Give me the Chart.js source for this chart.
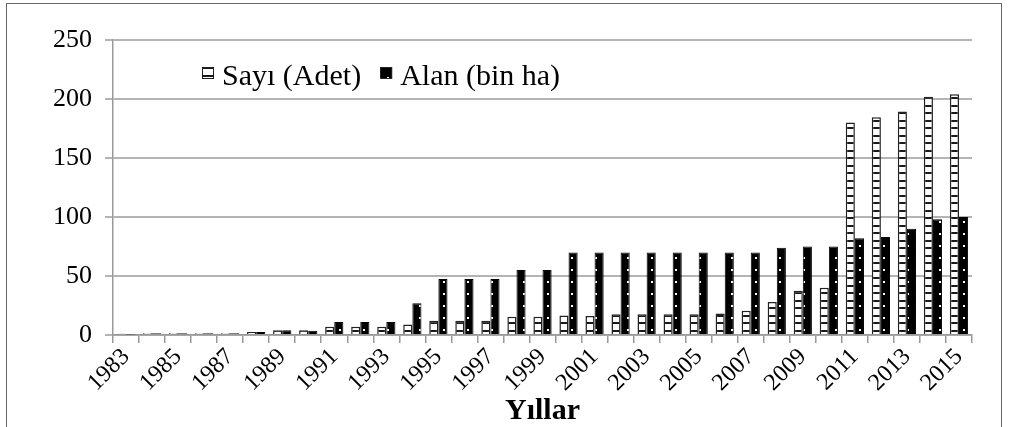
<!DOCTYPE html>
<html>
<head>
<meta charset="utf-8">
<script src="https://cdn.jsdelivr.net/npm/chart.js@4.4.0/dist/chart.umd.min.js"></script>
<style>
body { margin: 0; background: #fff; }
#wrap { position: relative; width: 1009px; height: 427px; }
#frame { position: absolute; left: 6px; top: 3px; width: 994px; height: 440px; border: 1.5px solid #666; pointer-events: none; }
</style>
</head>
<body>
<div id="wrap"><canvas id="barChart"></canvas><div id="frame"></div></div>
<script>
var years = ['1983', '1984', '1985', '1986', '1987', '1988', '1989', '1990', '1991', '1992', '1993',
    '1994', '1995', '1996', '1997', '1998', '1999', '2000', '2001', '2002', '2003', '2004', '2005',
    '2006', '2007', '2008', '2009', '2010', '2011', '2012', '2013', '2014', '2015'];
var sayiValues = [1, 1.5, 1.5, 1.5, 1.5, 2.5, 4, 4, 7, 7, 7, 9, 12, 12, 12, 15.5, 15.5, 16.5, 16,
    17.5, 17.5, 17.5, 17.5, 18.3, 20.6, 28, 37.5, 40, 180, 184.5, 189.5, 202, 204];
var alanValues = [0.5, 1.5, 1.5, 1.5, 1.5, 2.5, 4, 3.5, 11, 11, 11, 27, 47.5, 47.5, 47.5, 55, 55, 70, 70,
    70, 70, 70, 70, 70, 70, 74, 75, 75, 82, 83, 90, 98, 100];
var yTicks = [0, 50, 100, 150, 200, 250];
var seriesNames = ['Sayı (Adet)', 'Alan (bin ha)'];
var axisTitle = 'Yıllar';

var serif = '"Liberation Serif", "Times New Roman", serif';

// white bars with horizontal black stripes
function stripePattern() {
    var c = document.createElement('canvas');
    c.width = 4; c.height = 15;
    var g = c.getContext('2d');
    g.fillStyle = '#fff';
    g.fillRect(0, 0, 4, 15);
    g.fillStyle = '#1a1a1a';
    g.fillRect(0, 0, 4, 2);
    g.fillRect(0, 7, 4, 2);
    return g.createPattern(c, 'repeat');
}

// black bars with small white dots
function dotPattern() {
    var c = document.createElement('canvas');
    c.width = 8; c.height = 12;
    var g = c.getContext('2d');
    g.fillStyle = '#000';
    g.fillRect(0, 0, 8, 12);
    g.fillStyle = '#fff';
    g.fillRect(3, 5, 2, 2);
    return g.createPattern(c, 'repeat');
}

var insideLegend = {
    id: 'insideLegend',
    afterDraw: function (chart) {
        var ctx = chart.ctx;
        var x = chart.chartArea.left + 89;
        var base = 85;
        ctx.save();
        ctx.font = '30px ' + serif;
        ctx.textBaseline = 'alphabetic';
        chart.data.datasets.forEach(function (ds) {
            ctx.fillStyle = ds.backgroundColor;
            ctx.fillRect(x, base - 18, 12, 12);
            ctx.strokeStyle = '#222';
            ctx.lineWidth = 1;
            ctx.strokeRect(x + 0.5, base - 17.5, 11, 11);
            ctx.fillStyle = '#000';
            ctx.fillText(ds.label, x + 20, base);
            x += 20 + ctx.measureText(ds.label).width + 19;
        });
        ctx.restore();
    }
};

var ctx = document.getElementById('barChart').getContext('2d');
var myChart = new Chart(ctx, {
    type: 'bar',
    data: {
        labels: years,
        datasets: [{
            label: seriesNames[0],
            data: sayiValues,
            backgroundColor: stripePattern(),
            borderColor: '#222',
            borderWidth: 1.5,
            categoryPercentage: 0.7,
            barPercentage: 1
        }, {
            label: seriesNames[1],
            data: alanValues,
            backgroundColor: dotPattern(),
            borderColor: '#000',
            borderWidth: 1,
            categoryPercentage: 0.7,
            barPercentage: 1
        }]
    },
    options: {
        responsive: true,
        maintainAspectRatio: false,
        animation: false,
        layout: { padding: { left: 0, top: 40, right: 37, bottom: 0 } },
        plugins: {
            legend: { display: false },
            tooltip: { enabled: false }
        },
        scales: {
            x: {
                afterFit: function (scale) { scale.height = 92; },
                grid: { display: true, drawOnChartArea: false, offset: true, color: '#999', lineWidth: 1.5, tickLength: 8 },
                border: { color: '#999', width: 1.5 },
                ticks: {
                    autoSkip: false,
                    minRotation: 45,
                    maxRotation: 45,
                    padding: 0,
                    color: '#000',
                    font: { family: serif, size: 24 },
                    callback: function (value, index) { return index % 2 === 0 ? years[index] : ''; }
                },
                title: {
                    display: true,
                    text: axisTitle,
                    color: '#000',
                    font: { family: serif, size: 30, weight: 'bold', lineHeight: 1 },
                    padding: { top: 0, bottom: 1 }
                }
            },
            y: {
                min: 0,
                max: 250,
                afterFit: function (scale) { scale.width = 113; },
                afterBuildTicks: function (scale) { scale.ticks = yTicks.map(function (v) { return { value: v }; }); },
                grid: { color: '#b4b4b4', lineWidth: 2, tickLength: 8 },
                border: { color: '#999', width: 1.5 },
                ticks: {
                    padding: 13,
                    color: '#000',
                    font: { family: serif, size: 26 }
                }
            }
        }
    },
    plugins: [insideLegend]
});
</script>
</body>
</html>
